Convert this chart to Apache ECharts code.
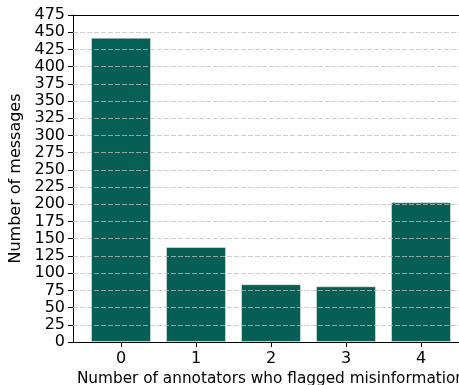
<!DOCTYPE html>
<html>
<head>
<meta charset="utf-8">
<script src="https://cdn.jsdelivr.net/npm/echarts@6/dist/echarts.min.js"></script>
<style>
  html, body { margin: 0; padding: 0; background: #fff; overflow: hidden; }
  #chart { width: 480px; height: 385px; }
</style>
</head>
<body>
<div id="chart"></div>
<script>
// annotators who flagged misinformation
const categories = [0, 1, 2, 3, 4]
const messageCounts = [442, 138, 84, 81, 203]
const yTicks = [0, 25, 50, 75, 100, 125, 150, 175, 200, 225, 250, 275, 300, 325, 350, 375, 400, 425, 450, 475]

const font = 'DejaVu Sans'
const chart = echarts.init(document.getElementById('chart'))

chart.setOption({
  animation: false,
  grid: { left: 73, right: 11, top: 15, bottom: 43, outerBoundsMode: 'none', containLabel: false },
  xAxis: [
    {
      type: 'value',
      min: -0.64,
      max: 4.64,
      name: 'Number of annotators who flagged misinformation',
      nameLocation: 'middle',
      nameGap: 27,
      nameTextStyle: { fontFamily: font, fontSize: 15.3, color: '#000' },
      axisLine: { onZero: false, lineStyle: { color: '#000', width: 1 } },
      axisTick: { customValues: categories, length: 5, lineStyle: { color: '#000' } },
      axisLabel: {
        customValues: categories,
        margin: 9,
        fontFamily: font, fontSize: 16, color: '#000',
        formatter: v => String(v)
      },
      splitLine: { show: false }
    },
    {
      type: 'value',
      position: 'top',
      min: -0.64,
      max: 4.64,
      axisLine: { show: true, onZero: false, lineStyle: { color: '#000', width: 1 } },
      axisTick: { show: false },
      axisLabel: { show: false },
      splitLine: { show: false }
    }
  ],
  yAxis: {
    type: 'value',
    min: 0,
    max: 475,
    interval: 25,
    name: 'Number of messages',
    nameLocation: 'middle',
    nameGap: 46,
    nameTextStyle: { fontFamily: font, fontSize: 16, color: '#000' },
    axisLine: { show: true, onZero: false, lineStyle: { color: '#000', width: 1 } },
    axisTick: { show: true, length: 5, lineStyle: { color: '#000' } },
    axisLabel: { margin: 8, fontFamily: font, fontSize: 16, color: '#000' },
    splitLine: { show: false }
  },
  series: [
    {
      type: 'bar',
      barWidth: 60,
      data: categories.map((c, i) => [c, messageCounts[i]]),
      itemStyle: { color: '#075e54', borderColor: 'rgba(255,255,255,0.45)', borderWidth: 1 },
      markLine: {
        silent: true,
        symbol: 'none',
        label: { show: false },
        lineStyle: { color: 'rgba(190,190,190,0.75)', type: [5, 2], width: 1 },
        data: yTicks.slice(1, -1).map(t => ({ yAxis: t }))
      }
    }
  ]
})
</script>
</body>
</html>
